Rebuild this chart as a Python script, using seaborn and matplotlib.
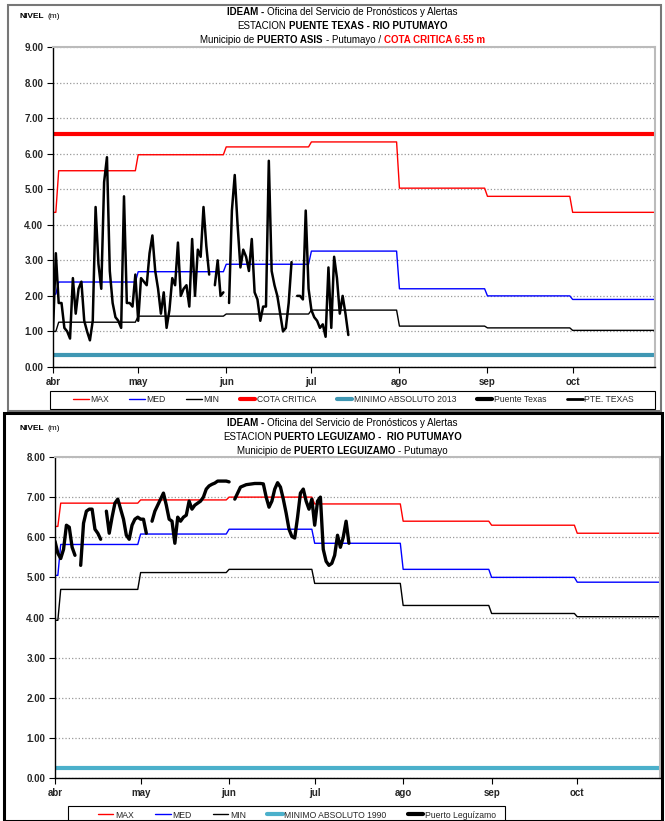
import numpy as np
import pandas as pd
import matplotlib
matplotlib.use('Agg')
import matplotlib.pyplot as plt
from matplotlib.lines import Line2D
from matplotlib.patches import Rectangle
from matplotlib.offsetbox import TextArea, HPacker, AnchoredOffsetbox
import seaborn as sns

sns.set_theme(style='white')
FAM = ['Liberation Sans', 'DejaVu Sans']
plt.rcParams['font.family'] = FAM

inicio = pd.Timestamp('2013-04-01')
fin = pd.Timestamp('2013-10-30')
meses = pd.date_range('2013-04-01', '2013-10-01', freq='MS')
etiquetas_meses = ['abr', 'may', 'jun', 'jul', 'ago', 'sep', 'oct']

# Puente Texas (valor de arranque + valor de cada mes abr..oct)
texas_max_ini, texas_max = 4.35, [5.52, 5.97, 6.19, 6.33, 5.03, 4.80, 4.35]
texas_med_ini, texas_med = 2.05, [2.39, 2.68, 2.89, 3.26, 2.20, 2.00, 1.90]
texas_min_ini, texas_min = 1.00, [1.26, 1.43, 1.49, 1.60, 1.15, 1.10, 1.03]
texas_cota = 6.55
texas_minimo = 0.35
texas_nivel = [1.0, 3.2, 1.8, 1.8, 1.1, 1.0, 0.8, 2.5, 1.5, 2.2,
               2.4, 1.3, 1.0, 0.75, 1.3, 4.5, 2.9, 2.2, 5.2, 5.9,
               2.7, 1.8, 1.4, 1.3, 1.1, 4.8, 1.8, 1.8, 1.7, 2.6,
               1.3, 2.5, 2.4, 2.3, 3.2, 3.7, 2.7, 2.2, 1.5, 2.1,
               1.1, 1.6, 2.5, 2.3, 3.5, 2.0, 2.2, 2.3, 1.7, 3.6,
               2.0, 3.3, 3.1, 4.5, 3.4, 2.6, np.nan, 2.3, 3.0, 2.0,
               2.1, np.nan, 1.8, 4.4, 5.4, 4.0, 2.8, 3.3, 3.1, 2.7,
               3.6, 2.1, 1.9, 1.3, 1.7, 1.7, 5.8, 2.7, 2.3, 2.0,
               1.5, 1.0, 1.1, 1.8, 2.95, np.nan, 2.0, 2.0, 1.9, 4.4,
               2.2, 1.6, 1.4, 1.3, 1.1, 1.2, 0.85, 2.8, 1.1, 3.1,
               2.5, 1.5, 2.0, 1.5, 0.9]

# Puerto Leguizamo
legui_max_ini, legui_max = 6.27, [6.85, 6.93, 7.00, 6.83, 6.40, 6.30, 6.10]
legui_med_ini, legui_med = 5.05, [5.82, 6.08, 6.20, 5.85, 5.20, 5.00, 4.88]
legui_min_ini, legui_min = 3.93, [4.70, 5.12, 5.20, 4.85, 4.30, 4.10, 4.02]
legui_minimo = 0.25
legui_nivel = [5.9, 5.6, 5.47, 5.7, 6.3, 6.25, 5.75, 5.55, np.nan, 5.3,
               6.35, 6.65, 6.7, 6.7, 6.2, 6.1, 5.95, np.nan, 6.65, 6.1,
               6.5, 6.85, 6.95, 6.7, 6.45, 6.05, 5.95, 6.3, 6.45, 6.5,
               6.45, 6.45, 6.1, np.nan, 6.4, 6.65, 6.8, 6.95, 7.1, 6.8,
               6.45, 6.4, 5.85, 6.5, 6.4, 6.5, 6.55, 6.9, 6.7, 6.8,
               6.85, 6.9, 7.0, 7.2, 7.28, 7.32, 7.35, 7.4, 7.4, 7.4,
               7.4, 7.38, np.nan, 6.95, 7.1, 7.25, 7.28, 7.31, 7.32, 7.33,
               7.34, 7.34, 7.34, 7.33, 7.0, 6.75, 6.9, 7.2, 7.36, 7.25,
               6.95, 6.6, 6.2, 6.02, 5.98, 6.5, 7.1, 7.2, 6.9, 6.7,
               6.95, 6.3, 6.9, 7.0, 5.7, 5.4, 5.3, 5.35, 5.55, 6.05,
               5.75, 6.0, 6.4, 5.85]

ROJO, AZUL, TEAL1, TEAL2 = '#ff0000', '#0000ff', '#3f97b3', '#4bb0cb'


def escalon(v_ini, v_mes):
    fechas = [inicio, inicio + pd.Timedelta(days=1)]
    valores = [v_ini, v_ini]
    for i, m in enumerate(meses):
        a = m + pd.Timedelta(days=2) if i == 0 else m
        sig = meses[i + 1] if i + 1 < len(meses) else pd.Timestamp('2013-11-01')
        fechas += [a, sig - pd.Timedelta(days=1)]
        valores += [v_mes[i], v_mes[i]]
    return pd.DataFrame({'fecha': fechas, 'nivel': valores})


def serie(nivel):
    df = pd.DataFrame({'fecha': pd.date_range(inicio, periods=len(nivel), freq='D'),
                       'nivel': nivel})
    df['tramo'] = df['nivel'].isna().cumsum()
    return df.dropna()


def linea_titulo(fig, x, y, piezas, size=7.0, loc='center', sep=2):
    hijos = [TextArea(t, textprops=dict(fontsize=size, fontweight=w, color=c, family=FAM))
             for t, w, c in piezas]
    caja = HPacker(children=hijos, align='baseline', pad=0, sep=sep)
    anc = AnchoredOffsetbox(loc=loc, child=caja, pad=0, borderpad=0, frameon=False,
                            bbox_to_anchor=(x, y), bbox_transform=fig.transFigure)
    fig.add_artist(anc)


def preparar_ejes(ax, ymax):
    ax.set_xlim(inicio, fin)
    ax.set_ylim(0, ymax)
    ax.set_yticks(np.arange(0, ymax + 0.5, 1))
    ax.yaxis.set_major_formatter(matplotlib.ticker.FormatStrFormatter('%.2f'))
    ax.set_xticks(meses)
    ax.set_xticklabels(etiquetas_meses)
    ax.yaxis.grid(True, linestyle=':', color='#999999', lw=0.9)
    ax.xaxis.grid(False)
    for s in ['left', 'bottom']:
        ax.spines[s].set_color('black')
        ax.spines[s].set_linewidth(1.0)
    for s in ['top', 'right']:
        ax.spines[s].set_color('#bbbbbb')
        ax.spines[s].set_linewidth(1.5)
    ax.tick_params(axis='both', direction='out', length=4, width=0.8, color='black',
                   labelsize=7, pad=3, left=True, bottom=True)
    for t in ax.get_xticklabels() + ax.get_yticklabels():
        t.set_fontweight('bold')
    ax.set_xlabel('')
    ax.set_ylabel('')


def leyenda(fig, manos, nombres, caja, contenido):
    # caja: marco negro (x0, y0, x1, y1) en px; contenido: tramo x0..x1 para las entradas
    x0, y0, x1, y1 = caja
    fig.patches.append(Rectangle((x0 / W, 1 - y1 / H), (x1 - x0) / W, (y1 - y0) / H,
                                 transform=fig.transFigure, fill=False, edgecolor='black', lw=0.8))
    c0, c1 = contenido
    fig.legend(manos, nombres, loc='center', ncol=len(nombres), mode='expand',
               bbox_to_anchor=(c0 / W, 1 - y1 / H, (c1 - c0) / W, (y1 - y0) / H), fontsize=6.2,
               handlelength=1.8, handletextpad=0.2, frameon=False, borderpad=0, borderaxespad=0)


fig = plt.figure(figsize=(6.65, 8.21), dpi=100)
W, H = 665, 821

def ejes_px(x0, y0, x1, y1):
    return fig.add_axes([x0 / W, 1 - y1 / H, (x1 - x0) / W, (y1 - y0) / H])

# ---------------- panel superior ----------------
fig.patches.append(Rectangle((8 / W, 1 - 411 / H), 653 / W, 406 / H, transform=fig.transFigure,
                             fill=False, edgecolor='#777777', lw=1.5))
ax1 = ejes_px(53, 47, 655, 367)
sns.lineplot(data=escalon(texas_max_ini, texas_max), x='fecha', y='nivel', color=ROJO, lw=1, ax=ax1)
sns.lineplot(data=escalon(texas_med_ini, texas_med), x='fecha', y='nivel', color=AZUL, lw=1, ax=ax1)
sns.lineplot(data=escalon(texas_min_ini, texas_min), x='fecha', y='nivel', color='black', lw=1, ax=ax1)
ax1.axhline(texas_cota, color=ROJO, lw=3)
ax1.axhline(texas_minimo, color=TEAL1, lw=3)
sns.lineplot(data=serie(texas_nivel), x='fecha', y='nivel', units='tramo', estimator=None,
             color='black', lw=1.8, ax=ax1)
preparar_ejes(ax1, 9)

mano1 = [Line2D([], [], color=ROJO, lw=1), Line2D([], [], color=AZUL, lw=1),
         Line2D([], [], color='black', lw=1), Line2D([], [], color=ROJO, lw=3),
         Line2D([], [], color=TEAL1, lw=3), Line2D([], [], color='black', lw=3),
         Line2D([], [], color='black', lw=2)]
nom1 = ['MAX', 'MED', 'MIN', 'COTA CRITICA', 'MINIMO ABSOLUTO 2013', 'Puente Texas', 'PTE. TEXAS']
leyenda(fig, mano1, nom1, (50, 391, 655, 409), (73, 634))

linea_titulo(fig, 20 / W, 1 - 17 / H, [('NIVEL', 'bold', 'black'), ('(m)', 'normal', 'black')],
             size=6, loc='center left')
linea_titulo(fig, 0.515, 1 - 12 / H, [('IDEAM -', 'bold', 'black'),
                                      ('Oficina del Servicio de Pronósticos y Alertas', 'normal', 'black')])
linea_titulo(fig, 0.515, 1 - 26 / H, [('ESTACION', 'normal', 'black'),
                                      ('PUENTE TEXAS - RIO PUTUMAYO', 'bold', 'black')])
linea_titulo(fig, 0.515, 1 - 40 / H, [('Municipio de', 'normal', 'black'), ('PUERTO ASIS', 'bold', 'black'),
                                      ('- Putumayo /', 'normal', 'black'),
                                      ('COTA CRITICA 6.55 m', 'bold', ROJO)])

# ---------------- panel inferior ----------------
fig.patches.append(Rectangle((4 / W, 0), 658 / W, 1 - 413 / H, transform=fig.transFigure,
                             fill=False, edgecolor='black', lw=2.2))
ax2 = ejes_px(55, 457, 660, 778)
sns.lineplot(data=escalon(legui_max_ini, legui_max), x='fecha', y='nivel', color=ROJO, lw=1, ax=ax2)
sns.lineplot(data=escalon(legui_med_ini, legui_med), x='fecha', y='nivel', color=AZUL, lw=1, ax=ax2)
sns.lineplot(data=escalon(legui_min_ini, legui_min), x='fecha', y='nivel', color='black', lw=1, ax=ax2)
ax2.axhline(legui_minimo, color=TEAL2, lw=3)
sns.lineplot(data=serie(legui_nivel), x='fecha', y='nivel', units='tramo', estimator=None,
             color='black', lw=2.4, ax=ax2)
preparar_ejes(ax2, 8)

mano2 = [Line2D([], [], color=ROJO, lw=1), Line2D([], [], color=AZUL, lw=1),
         Line2D([], [], color='black', lw=1), Line2D([], [], color=TEAL2, lw=3),
         Line2D([], [], color='black', lw=3)]
nom2 = ['MAX', 'MED', 'MIN', 'MINIMO ABSOLUTO 1990', 'Puerto Leguízamo']
leyenda(fig, mano2, nom2, (68, 806, 505, 824), (98, 496))

linea_titulo(fig, 20 / W, 1 - 428 / H, [('NIVEL', 'bold', 'black'), ('(m)', 'normal', 'black')],
             size=6, loc='center left')
linea_titulo(fig, 0.515, 1 - 423 / H, [('IDEAM -', 'bold', 'black'),
                                       ('Oficina del Servicio de Pronósticos y Alertas', 'normal', 'black')])
linea_titulo(fig, 0.515, 1 - 437 / H, [('ESTACION', 'normal', 'black'),
                                       ('PUERTO LEGUIZAMO -  RIO PUTUMAYO', 'bold', 'black')])
linea_titulo(fig, 0.515, 1 - 451 / H, [('Municipio de', 'normal', 'black'), ('PUERTO LEGUIZAMO', 'bold', 'black'),
                                       ('- Putumayo', 'normal', 'black')])

fig.savefig('out.png', dpi=100)
